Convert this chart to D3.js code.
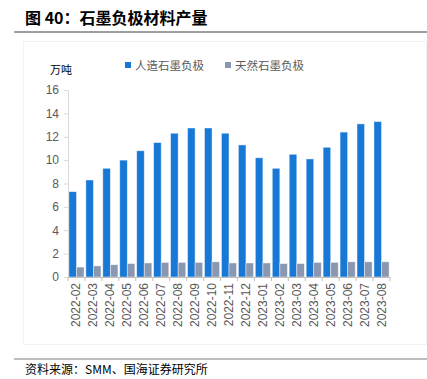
<!DOCTYPE html>
<html><head><meta charset="utf-8">
<script src="https://cdn.jsdelivr.net/npm/d3@7"></script>
<style>body{margin:0;background:#fff}svg{display:block}</style>
</head><body>
<script>
const categories = ["2022-02","2022-03","2022-04","2022-05","2022-06","2022-07","2022-08","2022-09","2022-10","2022-11","2022-12","2023-01","2023-02","2023-03","2023-04","2023-05","2023-06","2023-07","2023-08"];
const artificial = [7.3,8.3,9.3,10.0,10.8,11.5,12.3,12.75,12.75,12.3,11.3,10.2,9.3,10.5,10.1,11.1,12.4,13.1,13.3];
const natural = [0.85,0.95,1.05,1.15,1.2,1.25,1.25,1.25,1.3,1.2,1.2,1.2,1.15,1.15,1.25,1.25,1.3,1.3,1.3];
const yTicks = [0,2,4,6,8,10,12,14,16];
const seriesNames = ["人造石墨负极","天然石墨负极"];
const colors = ["#1778d6","#8a97b0"];

const W=427,H=379;
const svg=d3.select("body").append("svg").attr("width",W).attr("height",H);
const font="'Noto Sans CJK SC','Liberation Sans',Arial,sans-serif";

// title
svg.append("text").attr("x",25).attr("y",24).attr("font-family",font).attr("font-size",16).attr("font-weight","bold").attr("fill","#000").text("图 40：石墨负极材料产量");
svg.append("line").attr("x1",14).attr("x2",W).attr("y1",32).attr("y2",32).attr("stroke","#7f7f7f").attr("stroke-width",1.5);

// chart frame (faint)
svg.append("rect").attr("x",23.5).attr("y",41.5).attr("width",W-24).attr("height",303).attr("fill","none").attr("stroke","#f2f2f2");

const x=d3.scaleBand().domain(categories).range([68,390]).paddingInner(0).paddingOuter(0);
const y=d3.scaleLinear().domain([0,16]).range([277,90]);
const inner=d3.scaleBand().domain([0,1]).range([0,x.bandwidth()]).paddingOuter(0.12).paddingInner(0);

// axes
const ya=svg.append("g").attr("transform","translate(68,0)").call(d3.axisLeft(y).tickValues(yTicks).tickSize(4).tickPadding(5));
ya.select(".domain").attr("stroke","#d9d9d9");
ya.selectAll(".tick line").attr("stroke","#d9d9d9");
ya.selectAll("text").attr("font-family","'Liberation Sans',Arial,sans-serif").attr("font-size",12).attr("fill","#595959");

const g=svg.append("g");
categories.forEach((c,i)=>{
  [artificial[i],natural[i]].forEach((v,k)=>{
    g.append("rect").attr("x",x(c)+inner(k)).attr("y",y(v)).attr("width",inner.bandwidth()).attr("height",y(0)-y(v))
     .attr("fill",colors[k]).attr("stroke","rgba(255,255,255,0.55)").attr("stroke-width",0.8);
  });
});

const xa=svg.append("g").attr("transform","translate(0,277)").call(d3.axisBottom(x).tickSize(0).tickPadding(0));
xa.select(".domain").attr("stroke","#bfbfbf");
// tick marks between categories
const bounds=categories.map(c=>x(c)).concat([x(categories[categories.length-1])+x.bandwidth()]);
svg.append("g").selectAll("line").data(bounds).join("line").attr("x1",d=>d).attr("x2",d=>d).attr("y1",277).attr("y2",281).attr("stroke","#bfbfbf");
xa.selectAll("text").attr("font-family","'Liberation Sans',Arial,sans-serif").attr("font-size",12).attr("fill","#595959")
  .attr("text-anchor","end").attr("dy",null).attr("dominant-baseline","central")
  .attr("transform","translate(0,6) rotate(-90)").attr("x",0).attr("y",0);

// unit
svg.append("text").attr("x",50).attr("y",74).attr("font-family",font).attr("font-size",11).attr("fill","#000").text("万吨");

// legend
const leg=[[125,135],[225,235]];
seriesNames.forEach((n,k)=>{
  svg.append("rect").attr("x",leg[k][0]).attr("y",62).attr("width",6).attr("height",6).attr("fill",colors[k]);
  svg.append("text").attr("x",leg[k][1]).attr("y",69.5).attr("font-family",font).attr("font-size",11.5).attr("fill","#595959").text(n);
});

// footer
svg.append("line").attr("x1",14).attr("x2",W).attr("y1",359).attr("y2",359).attr("stroke","#7f7f7f").attr("stroke-width",1.2);
svg.append("text").attr("x",25).attr("y",374).attr("font-family",font).attr("font-size",12).attr("fill","#000").text("资料来源：SMM、国海证券研究所");
</script>
</body></html>
